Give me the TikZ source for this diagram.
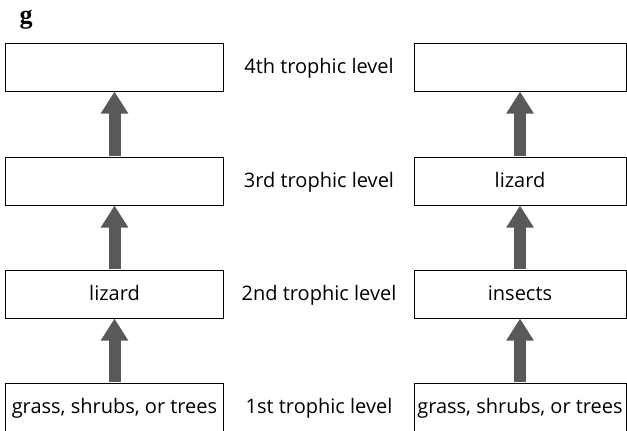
\documentclass[tikz,border=0pt]{standalone}
\usepackage{fontspec}
\setmainfont{Open Sans}
\newfontfamily\panelfont{Liberation Serif}
\usetikzlibrary{arrows.meta}

\tikzset{
	foodbox/.style={draw, line width=1bp, minimum width=217bp, minimum height=48bp, inner sep=0pt, text height=15bp, text depth=1.6bp, font=\fontsize{20bp}{22bp}\selectfont},
	leveltext/.style={font=\fontsize{20bp}{22bp}\selectfont, inner sep=0pt, text height=15bp, text depth=1.6bp},
	feed/.style={draw=black!65, line width=12bp, -{Triangle[length=22bp, width=26bp]}, shorten <=0.5bp}
}

\begin{document}
\begin{tikzpicture}[x=1bp, y=-1bp]
	\useasboundingbox (0,0) rectangle (627,430);
	\node[font=\panelfont\bfseries\fontsize{26bp}{28bp}\selectfont, inner sep=0pt] (panel) at (26,20) {g};

	% left food chain
	\node[foodbox] (l4) at (114.5,67) {};
	\node[foodbox] (l3) at (114.5,181) {};
	\node[foodbox] (l2) at (114.5,294) {lizard};
	\node[foodbox] (l1) at (114.5,407) {grass, shrubs, or trees};

	% right food chain
	\node[foodbox, minimum width=212bp] (r4) at (520,67) {};
	\node[foodbox, minimum width=212bp] (r3) at (520,181) {lizard};
	\node[foodbox, minimum width=212bp] (r2) at (520,294) {insects};
	\node[foodbox, minimum width=212bp] (r1) at (520,407) {grass, shrubs, or trees};

	% trophic levels
	\node[leveltext] (t4) at (319,67) {4th trophic level};
	\node[leveltext] (t3) at (319,181) {3rd trophic level};
	\node[leveltext] (t2) at (319,294) {2nd trophic level};
	\node[leveltext] (t1) at (319,407) {1st trophic level};

	\foreach \from/\to in {l1/l2, l2/l3, l3/l4, r1/r2, r2/r3, r3/r4}
		\draw[feed] (\from) -- (\to);
\end{tikzpicture}
\end{document}
